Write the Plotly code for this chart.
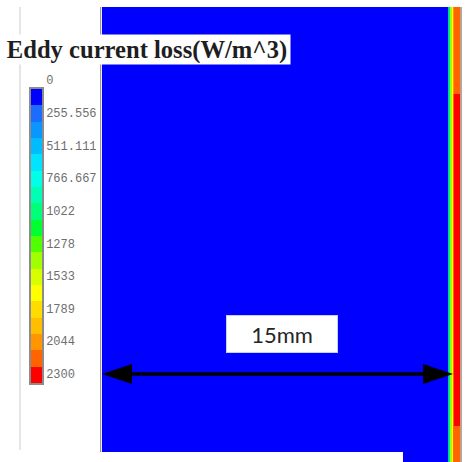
import plotly.graph_objects as go

# ---- data -----------------------------------------------------------------
# Legend levels of eddy current loss (W/m^3)
legend_values = [0, 255.556, 511.111, 766.667, 1022, 1278, 1533, 1789, 2044, 2300]
legend_labels = ["0", "255.556", "511.111", "766.667", "1022", "1278", "1533", "1789", "2044", "2300"]

# 18-step rainbow palette of the contour legend (blue -> red)
band_colors = [
    "#0000ff", "#1c6cff", "#0a96ff", "#00bcff", "#00e4ff", "#00ffe6",
    "#00ffb4", "#00ff78", "#00ff30", "#50ff00", "#a0ff00", "#d8ff00",
    "#ffff00", "#ffdc00", "#ffbe00", "#ff9600", "#ff6400", "#ff0000",
]

# Cell edges across the plate width (mm) and along its height (mm, from top)
position_mm = [0.0, 14.77, 14.81, 14.85, 14.89, 14.94, 14.98, 15.02, 15.06, 15.34]
height_mm = [0.0, 3.7, 17.9, 19.44]

# Loss in each cell (W/m^3), one row per height segment
loss_top = [0, 420, 760, 1050, 1300, 1650, 1900, 2000, 2050]
loss_mid = [0, 420, 760, 1050, 1300, 1650, 1900, 2100, 2300]
loss_bottom = [0, 420, 760, 1050, 1300, 1650, 1900, 2050, 2150]

span_mm = 15
span_label = "15mm"
title_text = "Eddy current loss(W/m^3)"

# ---- page geometry (pixels) ---------------------------------------------
W, H = 467, 462
PX_PER_MM = 23.4
ZMIN, ZMAX = 0, 2300


def px(x):
    return x / W


def py(y):
    return 1 - y / H


n_bands = len(band_colors)
colorscale = []
for i, c in enumerate(band_colors):
    colorscale.append([i / n_bands, c])
    colorscale.append([(i + 1) / n_bands, c])

band_edges = [ZMIN + (ZMAX - ZMIN) * i / n_bands for i in range(n_bands + 1)]
band_mids = [[(band_edges[i] + band_edges[i + 1]) / 2] for i in range(n_bands)]

fig = go.Figure()

# Loss field over the plate
fig.add_trace(go.Heatmap(
    x=position_mm, y=height_mm,
    z=[loss_top, loss_mid, loss_bottom],
    colorscale=colorscale, zmin=ZMIN, zmax=ZMAX,
    showscale=False, hoverinfo="skip",
    xaxis="x", yaxis="y",
))

# Legend bar
fig.add_trace(go.Heatmap(
    x=[0, 1], y=band_edges, z=band_mids,
    colorscale=colorscale, zmin=ZMIN, zmax=ZMAX,
    showscale=False, hoverinfo="skip",
    xaxis="x2", yaxis="y2",
))

x_lo = (101 - 102) / PX_PER_MM
x_hi = (461 - 102) / PX_PER_MM
y_hi = (462 - 7) / PX_PER_MM
arrow_y = (374 - 7) / PX_PER_MM
head_len = 30 / PX_PER_MM
head_half = 10 / PX_PER_MM

shapes = [
    # legend frame line
    dict(type="line", xref="paper", yref="paper", x0=px(20), x1=px(20), y0=py(7), y1=py(450),
         line=dict(color="#d4d4d4", width=1.2), layer="below"),
    # plate edges
    dict(type="line", xref="paper", yref="paper", x0=px(100.6), x1=px(100.6), y0=py(7), y1=py(452),
         line=dict(color="#9a9a9a", width=1.2)),
    dict(type="line", xref="paper", yref="paper", x0=px(461), x1=px(461), y0=py(7), y1=py(462),
         line=dict(color="#bca494", width=2)),
    # white strip along the bottom
    dict(type="rect", xref="paper", yref="paper", x0=px(100), x1=px(403), y0=0, y1=py(452),
         fillcolor="white", line=dict(width=0)),
    # dimension arrow
    dict(type="line", xref="x", yref="y", x0=head_len * 0.5, x1=span_mm - head_len * 0.5,
         y0=arrow_y, y1=arrow_y, line=dict(color="black", width=3.5)),
    dict(type="path", xref="x", yref="y",
         path=f"M 0 {arrow_y} L {head_len} {arrow_y - head_half} L {head_len} {arrow_y + head_half} Z",
         fillcolor="black", line=dict(width=0)),
    dict(type="path", xref="x", yref="y",
         path=f"M {span_mm} {arrow_y} L {span_mm - head_len} {arrow_y - head_half} "
              f"L {span_mm - head_len} {arrow_y + head_half} Z",
         fillcolor="black", line=dict(width=0)),
]

annotations = [
    dict(text=f"<b>{title_text}</b>", xref="paper", yref="paper", x=px(147), y=py(49),
         xanchor="center", yanchor="middle", showarrow=False,
         font=dict(family="Liberation Serif", size=24.6, color="#1e1e1e"),
         bgcolor="white", width=284, height=27, borderpad=1),
    dict(text=span_label, xref="x", yref="paper", x=span_mm / 2, y=py(334),
         xshift=4, xanchor="center", yanchor="middle", showarrow=False,
         font=dict(family="Lato", size=22, color="#262626"),
         bgcolor="white", bordercolor="#c8ceff", borderwidth=1,
         width=108, height=34, borderpad=1),
]

fig.update_layout(
    width=W, height=H,
    margin=dict(l=0, r=0, t=0, b=0, autoexpand=False),
    paper_bgcolor="white", plot_bgcolor="white",
    showlegend=False,
    xaxis=dict(domain=[px(101), px(461)], range=[x_lo, x_hi], visible=False, automargin=False),
    yaxis=dict(domain=[py(462), py(7)], range=[y_hi, 0], visible=False, automargin=False),
    xaxis2=dict(domain=[px(31), px(42)], range=[0, 1], anchor="y2", automargin=False,
                showticklabels=False, showgrid=False, zeroline=False,
                showline=True, mirror=True, linecolor="#8c8c8c", linewidth=1.5),
    yaxis2=dict(domain=[py(383), py(89)], range=[ZMAX, ZMIN], anchor="x2", side="right",
                automargin=False,
                tickvals=legend_values, ticktext=legend_labels, ticks="",
                ticklabelshift=9, ticklabelstandoff=0,
                tickfont=dict(family="Liberation Mono", size=12, color="#6e6e6e"),
                showgrid=False, zeroline=False,
                showline=True, mirror=True, linecolor="#8c8c8c", linewidth=1.5),
    shapes=shapes,
    annotations=annotations,
)

fig.write_html("out.html")
